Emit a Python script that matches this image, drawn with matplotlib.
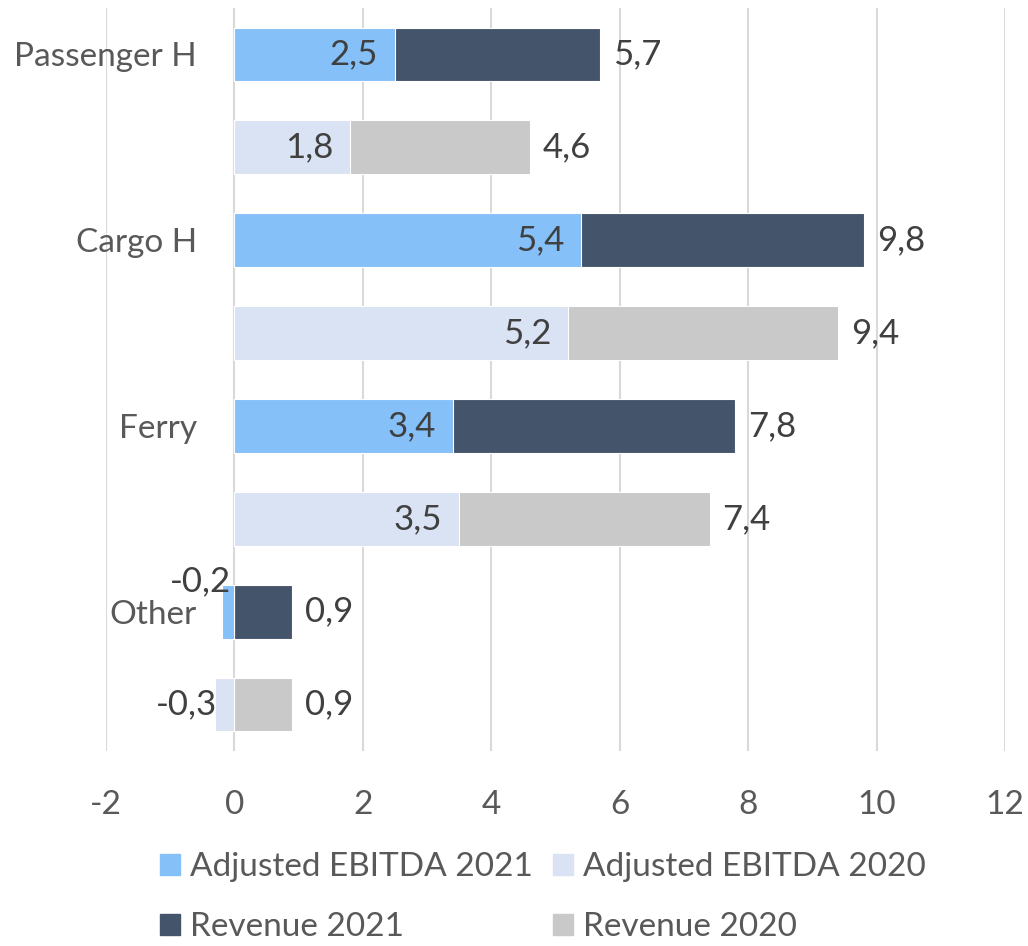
import numpy as np
import matplotlib
matplotlib.use('Agg')
import matplotlib.pyplot as plt

categories = ['Passenger H', 'Cargo H', 'Ferry', 'Other']
ebitda_2021 = [2.5, 5.4, 3.4, -0.2]
ebitda_2020 = [1.8, 5.2, 3.5, -0.3]
revenue_2021 = [5.7, 9.8, 7.8, 0.9]
revenue_2020 = [4.6, 9.4, 7.4, 0.9]
x_ticks = [-2, 0, 2, 4, 6, 8, 10, 12]

plt.rcParams['font.family'] = ['Lato', 'DejaVu Sans']

c_e21, c_e20 = '#85C0F9', '#DAE3F3'
c_r21, c_r20 = '#44546A', '#C9C9C9'
txt = '#595959'
lbl = '#404040'

fig = plt.figure(figsize=(10.28, 9.46), dpi=100)
ax = fig.add_axes([106 / 1028, 1 - 751 / 946, 899 / 1028, 743 / 946])

n = len(categories)
y21 = np.arange(n) * 2
y20 = y21 + 1
h = 0.58

def fmt(v):
    return f'{v:.1f}'.replace('.', ',')

# revenue bars behind, EBITDA bars on top (overlap 100%)
ax.barh(y21, revenue_2021, height=h, color=c_r21, edgecolor='white', linewidth=0.8, zorder=2)
ax.barh(y20, revenue_2020, height=h, color=c_r20, edgecolor='white', linewidth=0.8, zorder=2)
ax.barh(y21, ebitda_2021, height=h, color=c_e21, edgecolor='white', linewidth=0.8, zorder=3)
ax.barh(y20, ebitda_2020, height=h, color=c_e20, edgecolor='white', linewidth=0.8, zorder=3)

fs = 24
fs_lbl = 25
for ys, rev, ebd in [(y21, revenue_2021, ebitda_2021), (y20, revenue_2020, ebitda_2020)]:
    for y, r, e in zip(ys, rev, ebd):
        ax.annotate(fmt(r), (r, y), xytext=(13, 0), textcoords='offset pixels',
                    ha='left', va='center', fontsize=fs_lbl, color=lbl, zorder=5)
        if e >= 0:
            ax.annotate(fmt(e), (e, y), xytext=(-17, 0), textcoords='offset pixels',
                        ha='right', va='center', fontsize=fs_lbl, color=lbl, zorder=5)
        elif ys is y21:
            # label nudged above the thin negative bar, as in the source chart
            ax.annotate(fmt(e), (0, y), xytext=(-3, 30), textcoords='offset pixels',
                        ha='right', va='center', fontsize=fs_lbl, color=lbl, zorder=5)
        else:
            ax.annotate(fmt(e), (0, y), xytext=(-17, 0), textcoords='offset pixels',
                        ha='right', va='center', fontsize=fs_lbl, color=lbl, zorder=5)

ax.set_xlim(-2, 12)
ax.set_ylim(2 * n - 0.5, -0.5)
ax.set_xticks(x_ticks)
ax.set_xticklabels([str(t) for t in x_ticks])
ax.set_yticks(y21)
ax.set_yticklabels(categories)
ax.spines['left'].set_position(('data', 0))
for s in ax.spines.values():
    s.set_visible(False)
ax.tick_params(axis='y', length=0, pad=27, labelsize=fs, labelcolor=txt)
ax.tick_params(axis='x', length=0, pad=28, labelsize=fs, labelcolor=txt)
ax.grid(axis='x', color='#D9D9D9', linewidth=1.5, zorder=0)
ax.set_axisbelow(True)

handles = [plt.Rectangle((0, 0), 1, 1, color=c) for c in [c_e21, c_r21, c_e20, c_r20]]
names = ['Adjusted EBITDA 2021', 'Revenue 2021', 'Adjusted EBITDA 2020', 'Revenue 2020']
fig.legend(handles, names, loc='upper left', bbox_to_anchor=(160 / 1028, 1 - 852 / 946),
           ncol=2, frameon=False, fontsize=fs, labelcolor=txt, borderpad=0, borderaxespad=0,
           handlelength=0.6, handleheight=0.6, handletextpad=0.3,
           columnspacing=0.6, labelspacing=0.9)

fig.savefig('out.png', dpi=100)
